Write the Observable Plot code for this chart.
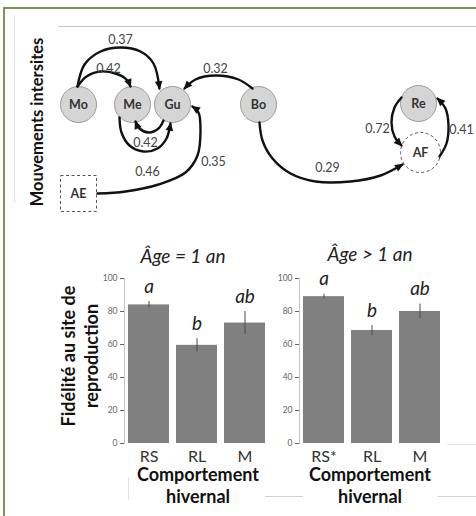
<!DOCTYPE html>
<html><head><meta charset="utf-8">
<script src="https://cdn.jsdelivr.net/npm/d3@7"></script>
<script src="https://cdn.jsdelivr.net/npm/@observablehq/plot@0.6"></script>
<style>
html,body{margin:0;padding:0;background:#fff;}
#page{position:relative;width:476px;height:516px;overflow:hidden;background:#fff;font-family:Lato,"Open Sans",sans-serif;}
.ln{position:absolute;}
.lbl{position:absolute;transform:translate(-50%,-50%);white-space:nowrap;color:#111;}
</style></head>
<body><div id="page"></div>
<script>
// ---------- network data ----------
const nodeIds   = ["Mo","Me","Gu","Bo","Re","AF","AE"];
const nodeType  = ["site","site","site","site","site","circle","square"];
// diagram layout (node centres, layout units)
const layoutX   = [78,132,172,258,418,420,78];
const layoutY   = [104,104,104,104,103,152,193];

const edgeFrom  = ["Mo","Mo","Bo","Gu","Me","AE","Bo","Re","AF"];
const edgeTo    = ["Gu","Me","Gu","Me","Gu","Gu","AF","AF","Re"];
const edgeValue = [0.37,0.42,0.32,0.42,0.46,0.35,0.29,0.72,0.41];
// edge routes (layout units)
const edgeRoutes = [
  [[77,86],[84,64],[100,51],[120,47],[140,51],[153,63],[159,88]],
  [[77,86],[86,76],[100,71],[115,73],[126,79],[130,86]],
  [[252,88],[238,79],[215,75],[195,79],[184,88]],
  [[163,120],[158,128],[148,132],[139,128],[135,121]],
  [[119,117],[121,132],[129,145],[143,151],[157,148],[166,138],[170,123]],
  [[97,193],[125,191],[158,184],[185,172],[197,155],[200,130],[198,112],[192,106]],
  [[259,122],[262,140],[272,158],[290,173],[315,181],[350,181],[380,175],[402,164]],
  [[401,97],[394,107],[391,122],[394,136],[401,145]],
  [[439,156],[446,143],[448,125],[445,108],[437,98]]
];
const edgeLabelX = [120,108,215,145,147,213,327,377,461];
const edgeLabelY = [39,68,68,142,171,161,167,128,129];

// ---------- bar chart data ----------
const behaviours   = ["RS","RL","M"];
const tickLabels1  = ["RS","RL","M"];
const tickLabels2  = ["RS*","RL","M"];
const fidelity1    = [84,59.5,73];
const error1       = [2,4,7];
const letters1     = ["a","b","ab"];
const fidelity2    = [89,68.5,80];
const error2       = [1.5,3,4.5];
const letters2     = ["a","b","ab"];
const yTicks       = [0,20,40,60,80,100];

const page = document.getElementById("page");

function addLine(l,t,w,h,c){const d=document.createElement("div");d.className="ln";
  Object.assign(d.style,{left:l+"px",top:t+"px",width:w+"px",height:h+"px",background:c});page.appendChild(d);}
function addText(txt,x,y,css,rot){const d=document.createElement("div");d.className="lbl";d.innerHTML=txt;
  Object.assign(d.style,{left:x+"px",top:y+"px"},css);
  if(rot) d.style.transform="translate(-50%,-50%) rotate(-90deg)";page.appendChild(d);}

// frame & faint slide lines
addLine(3,7,473,2,"#7b9456");
addLine(3,7,2,509,"#7b9456");
addLine(58,26,418,1,"#cdc4c4");
addLine(14,15,1,188,"#e6e6e6");
addLine(265,496,38,1,"#dccfcf");
addLine(438,496,38,1,"#dccfcf");
addLine(128,477,1,23,"#e2e2e2");
addLine(447,444,29,1,"#e2e2e2");

// ---------- network ----------
const nodes = nodeIds.map((id,i)=>({id,type:nodeType[i],x:layoutX[i],y:layoutY[i]}));
const edgePts = [];
edgeRoutes.forEach((r,i)=>r.forEach(p=>edgePts.push({edge:edgeFrom[i]+"-"+edgeTo[i]+i,x:p[0],y:p[1]})));
const edgeLabels = edgeValue.map((v,i)=>({t:v.toFixed(2),x:edgeLabelX[i],y:edgeLabelY[i]}));

function filledArrow(color){
  return d3.create("svg:marker")
    .attr("viewBox","-9 -5 11 10")
    .attr("markerWidth",4.2).attr("markerHeight",3.8)
    .attr("orient","auto")
    .attr("fill",color).attr("stroke","none")
    .call(m=>m.append("path").attr("d","M-8,-4.2L1.5,0L-8,4.2Z"))
    .node();
}
function network(marker){
  return Plot.plot({
    width:476,height:232,margin:0,
    style:{background:"transparent",fontFamily:"Lato, sans-serif",overflow:"visible"},
    x:{domain:[0,476],axis:null},
    y:{domain:[0,232],reverse:true,axis:null},
    marks:[
      Plot.dot(nodes.filter(d=>d.type==="site"),{x:"x",y:"y",r:18,fill:"#d5d5d5",stroke:"#9c9c9c",strokeWidth:1}),
      Plot.dot(nodes.filter(d=>d.type==="circle"),{x:"x",y:"y",r:20,fill:"#fff",stroke:"#555",strokeWidth:1,strokeDasharray:"3,2.5"}),
      Plot.dot(nodes.filter(d=>d.type==="square"),{x:"x",y:"y",r:20.3,symbol:"square",fill:"#fff",stroke:"#555",strokeWidth:1,strokeDasharray:"3,2.5"}),
      Plot.line(edgePts,{x:"x",y:"y",z:"edge",curve:"catmull-rom",stroke:"#111",strokeWidth:2.4,markerEnd:marker}),
      Plot.text(nodes,{x:"x",y:"y",text:"id",fontWeight:"bold",fontSize:12.5,fill:"#333"}),
      Plot.text(edgeLabels,{x:"x",y:"y",text:"t",fontSize:12.5,fill:"#444"})
    ]
  });
}
let net;
try { net = network(filledArrow); } catch(e) { net = network("arrow"); }
net.style.position="absolute";net.style.left="0px";net.style.top="0px";
page.appendChild(net);

// ---------- bar charts ----------
function barChart(tickLabels, vals, errs, letters){
  const data = behaviours.map((c,i)=>({c,v:vals[i],e:errs[i],l:letters[i]}));
  return Plot.plot({
    width:212,height:225,marginLeft:64,marginRight:2,marginTop:38,marginBottom:22,
    style:{background:"transparent",fontFamily:"Lato, sans-serif",overflow:"visible"},
    x:{domain:behaviours,paddingInner:0.143,paddingOuter:0.08,axis:null},
    y:{domain:[0,100],axis:null},
    marks:[
      Plot.frame({anchor:"left",stroke:"#c4c4c4"}),
      Plot.axisY({ticks:yTicks,tickSize:4,tickPadding:3,fontSize:8.5,color:"#666",label:null}),
      Plot.barY(data,{x:"c",y:"v",fill:"#808080"}),
      Plot.ruleX(data,{x:"c",y1:d=>d.v-d.e,y2:d=>d.v+d.e,stroke:"#4a4a4a",strokeWidth:1}),
      Plot.text(data,{x:"c",y:d=>d.v+d.e,text:"l",dy:-15,fontSize:19,fontStyle:"italic",fill:"#222"}),
      Plot.axisX({tickFormat:d=>tickLabels[behaviours.indexOf(d)],tickSize:0,tickPadding:7,fontSize:16,color:"#333",label:null})
    ]
  });
}
const c1 = barChart(tickLabels1,fidelity1,error1,letters1);
c1.style.position="absolute";c1.style.left="60px";c1.style.top="240px";page.appendChild(c1);
const c2 = barChart(tickLabels2,fidelity2,error2,letters2);
c2.style.position="absolute";c2.style.left="235px";c2.style.top="240px";page.appendChild(c2);

// ---------- titles ----------
addText("Mouvements intersites",37,122,{fontWeight:"bold",fontSize:"16.5px"},true);
addText("Fidélité au site de<br>reproduction",80,356,{fontWeight:"bold",fontSize:"18px",lineHeight:"23px",textAlign:"center"},true);
addText("Âge = 1 an",183,255,{fontStyle:"italic",fontSize:"19px",color:"#222"});
addText("Âge &gt; 1 an",370,253,{fontStyle:"italic",fontSize:"19px",color:"#222"});
addText("Comportement<br>hivernal",198,485,{fontWeight:"bold",fontSize:"18px",lineHeight:"22px",textAlign:"center"});
addText("Comportement<br>hivernal",370,485,{fontWeight:"bold",fontSize:"18px",lineHeight:"22px",textAlign:"center"});
</script>
</body></html>
